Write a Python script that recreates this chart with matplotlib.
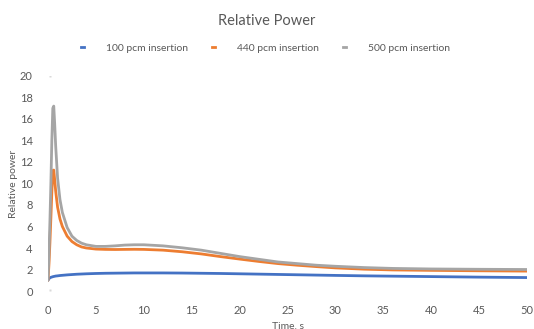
import matplotlib
matplotlib.use("Agg")
import matplotlib.pyplot as plt
from matplotlib.lines import Line2D

plt.rcParams['font.family'] = ['Lato', 'DejaVu Sans']

time_s = [0, 0.1, 0.2, 0.3, 0.4, 0.5, 0.6, 0.7, 0.8, 1.0, 1.25, 1.5, 2, 2.5, 3, 3.5, 4,
          5, 6, 7, 8, 9, 10, 12, 14, 16, 18, 20, 22, 24, 26, 28, 30, 33, 36, 40, 45, 50]

p100 = [1.0, 1.15, 1.22, 1.27, 1.3, 1.33, 1.35, 1.37, 1.39, 1.41, 1.44, 1.46, 1.5, 1.53,
        1.56, 1.58, 1.6, 1.63, 1.65, 1.66, 1.67, 1.68, 1.68, 1.68, 1.67, 1.65, 1.63, 1.6,
        1.57, 1.54, 1.51, 1.48, 1.45, 1.41, 1.38, 1.34, 1.29, 1.25]

p440 = [1.0, 2.5, 4.5, 6.8, 9.2, 11.2, 11.25, 10.3, 9.3, 7.8, 6.7, 6.0, 5.1, 4.6, 4.3,
        4.1, 4.0, 3.9, 3.87, 3.86, 3.87, 3.88, 3.87, 3.8, 3.65, 3.45, 3.2, 2.97, 2.75,
        2.55, 2.4, 2.27, 2.15, 2.03, 1.96, 1.92, 1.88, 1.85]

p500 = [1.0, 3.5, 6.5, 10.0, 14.0, 17.0, 17.2, 15.5, 13.5, 10.5, 8.5, 7.3, 5.9, 5.1, 4.7,
        4.45, 4.3, 4.15, 4.15, 4.2, 4.27, 4.3, 4.3, 4.2, 4.02, 3.8, 3.5, 3.2, 2.95, 2.7,
        2.55, 2.4, 2.3, 2.18, 2.1, 2.05, 2.02, 2.0]

labels = ["100 pcm insertion", "440 pcm insertion", "500 pcm insertion"]
colors = ["#4472C4", "#ED7D31", "#A5A5A5"]
text_color = "#595959"

fig = plt.figure(figsize=(5.34, 3.29), dpi=100)
ax = fig.add_axes([0.0899, 0.1155, 0.897, 0.6535])

for series, c in zip([p100, p440, p500], colors):
    ax.plot(time_s, series, color=c, lw=2.0, solid_capstyle='round')

# faint axis-extent marks
ax.plot([0.2, 0.2], [20, 0.1], ls='none', marker='s', ms=1.5, color='#d9d9d9', mec='none')

ax.set_xlim(0, 50)
ax.set_ylim(0, 20)
ax.set_xticks(range(0, 51, 5))
ax.set_yticks(range(0, 21, 2))
for s in ax.spines.values():
    s.set_visible(False)
ax.tick_params(length=0, labelsize=8, labelcolor=text_color)
ax.tick_params(axis='x', pad=10)
ax.tick_params(axis='y', pad=11)

ax.set_xlabel("Time, s", fontsize=7.5, color=text_color, labelpad=4)
ax.set_ylabel("Relative power", fontsize=7.5, color=text_color, labelpad=1)

fig.text(0.5, 0.935, "Relative Power", ha='center', va='center', fontsize=10.5, color=text_color)

handles = [Line2D([0], [0], color=c, lw=2) for c in colors]
fig.legend(handles, labels, loc='center', bbox_to_anchor=(0.497, 0.853), ncol=3,
           frameon=False, fontsize=7.5, handlelength=0.3, handletextpad=2.1,
           columnspacing=2.3, labelcolor=text_color)

fig.savefig("out.png", dpi=100)
